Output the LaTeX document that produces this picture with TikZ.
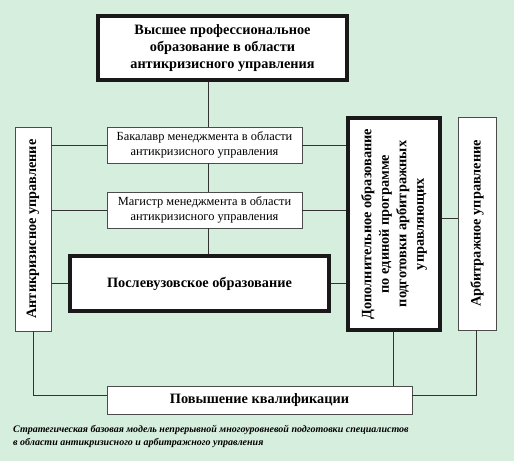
\documentclass[tikz,border=0pt]{standalone}
\usepackage{fontspec}
\setmainfont{Liberation Serif}
\begin{document}
\begin{tikzpicture}[x=1pt,y=-1pt,
  thinbox/.style={draw=black!70,line width=0.9pt,fill=white,inner sep=0pt,align=center},
  thickbox/.style={draw=black!90,line width=4pt,fill=white,inner sep=0pt,align=center},
  vtext/.style={inner sep=0pt,align=center,rotate=90,font=\fontsize{14.3}{17.5}\selectfont\bfseries},
  bigfont/.style={font=\fontsize{14.3}{17}\selectfont\bfseries},
  smallfont/.style={font=\fontsize{12.4}{15.5}\selectfont},
  link/.style={draw=black!80,line width=0.7pt}]
\fill[fill={rgb,255:red,214;green,238;blue,222}] (0,0) rectangle (514,461);
\useasboundingbox (0,0) rectangle (514,461);
\node[thickbox,minimum width=249pt,minimum height=64pt,bigfont] (top) at (222.5,48) {Высшее профессиональное\\образование в области\\антикризисного управления};
\node[thinbox,minimum width=195pt,minimum height=36pt,smallfont] (bak) at (204.5,145) {Бакалавр менеджмента в области\\антикризисного управления};
\node[thinbox,minimum width=195pt,minimum height=36pt,smallfont] (mag) at (204.5,210) {Магистр менеджмента в области\\антикризисного управления};
\node[thickbox,minimum width=259pt,minimum height=55pt,bigfont] (post) at (199.5,283.5) {Послевузовское образование};
\node[thickbox,minimum width=92pt,minimum height=212pt] (dop) at (394,224) {};
\node[vtext] (doptext) at (dop.center) {Дополнительное образование\\по единой программе\\подготовки арбитражных\\управляющих};
\node[thinbox,minimum width=38pt,minimum height=213pt] (arb) at (477,223.5) {};
\node[vtext] (arbtext) at (arb.center) {Арбитражное управление};
\node[thinbox,minimum width=36pt,minimum height=204pt] (left) at (33,229) {};
\node[vtext] (lefttext) at (left.center) {Антикризисное управление};
\node[thinbox,minimum width=305pt,minimum height=28pt,bigfont] (pov) at (259.5,400) {Повышение квалификации};
\node[anchor=north west,inner sep=0pt,align=left,font=\fontsize{10}{13}\selectfont\bfseries\itshape] (cap) at (13,425) {Стратегическая базовая модель непрерывной многоуровневой подготовки специалистов\\в области антикризисного и арбитражного управления};
% connectors
\coordinate (c1) at ([xshift=-14.5pt]top.south);
\draw[link] (c1) -- (c1 |- bak.north);
\draw[link] (c1 |- bak.south) -- (c1 |- mag.north);
\draw[link] (c1 |- mag.south) -- (c1 |- post.north);
\draw[link] (bak.west) -- (bak.west -| left.east);
\draw[link] (mag.west) -- (mag.west -| left.east);
\draw[link] (post.west) -- (post.west -| left.east);
\draw[link] (bak.east) -- (bak.east -| dop.west);
\draw[link] (mag.east) -- (mag.east -| dop.west);
\draw[link] (post.east) -- (post.east -| dop.west);
\coordinate (d1) at ([yshift=6pt]dop.east);
\draw[link] (d1) -- (d1 -| arb.west);
\draw[link] (left.south) |- ([yshift=5pt]pov.west);
\draw[link] ([xshift=-1pt]arb.south) |- ([yshift=5pt]pov.east);
\draw[link] ([xshift=-1pt]dop.south) -- ([xshift=-1pt]dop.south |- pov.north);
\end{tikzpicture}
\end{document}
